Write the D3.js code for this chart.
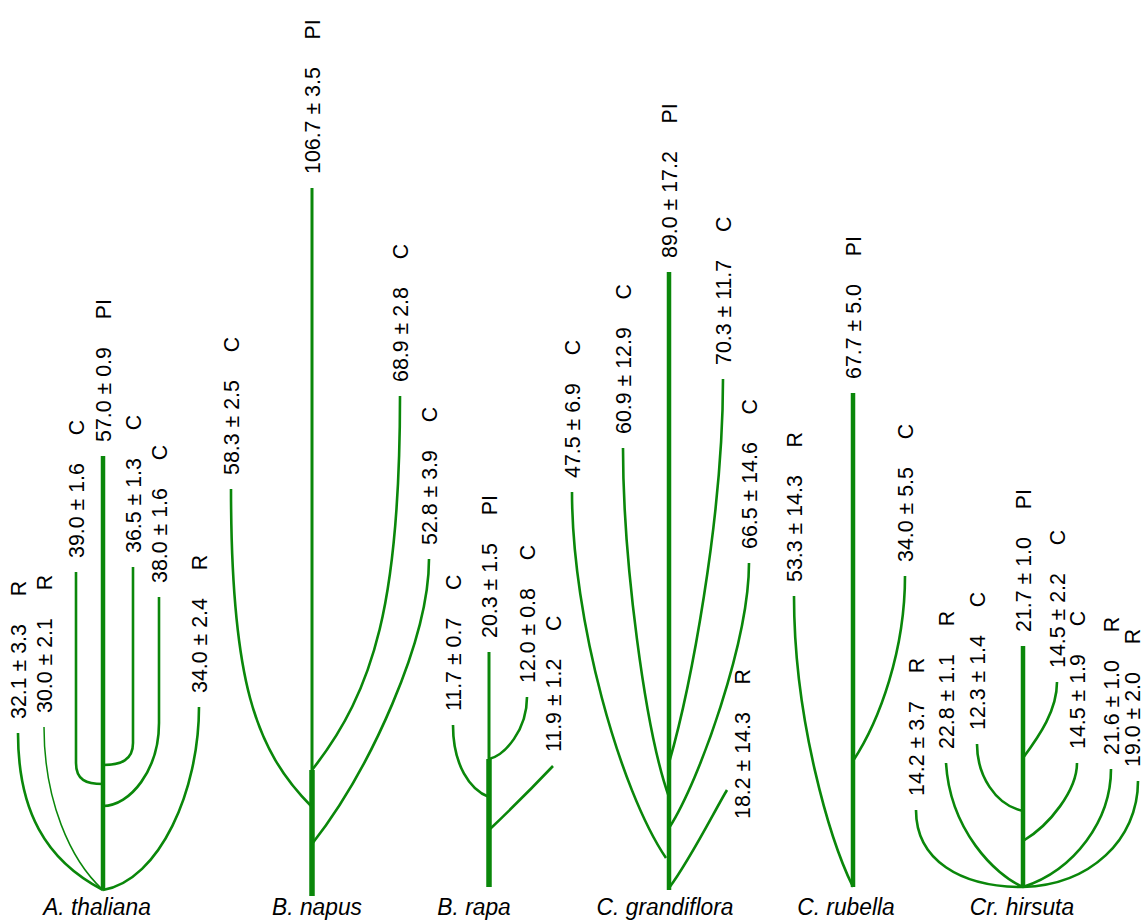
<!DOCTYPE html>
<html>
<head>
<meta charset="utf-8">
<script src="https://cdn.jsdelivr.net/npm/d3@7"></script>
<style>
    body { margin: 0; background: #fff; }
    svg { display: block; }
    .value_label, .species_label { font-family: "Liberation Sans", Arial, sans-serif; fill: #000; }
    .species_label { font-style: italic; }
</style>
</head>
<body>
<div class="plants"></div>
<script>
// species, primary inflorescence (PI) length, mean ± sd
const species = ['A. thaliana', 'B. napus', 'B. rapa', 'C. grandiflora', 'C. rubella', 'Cr. hirsuta']
const piMean = [57.0, 106.7, 20.3, 89.0, 67.7, 21.7]
const piSd = [0.9, 3.5, 1.5, 17.2, 5.0, 1.0]

// branches: owning species, type (C cauline, R rosette), length mean ± sd
const branchSpecies = [0, 0, 0, 0, 0, 0, 1, 1, 1, 2, 2, 2, 3, 3, 3, 3, 3, 4, 4, 5, 5, 5, 5, 5, 5, 5]
const branchType = ['R', 'R', 'C', 'C', 'C', 'R', 'C', 'C', 'C', 'C', 'C', 'C', 'C', 'C', 'C', 'C', 'R', 'R', 'C', 'R', 'R', 'C', 'C', 'C', 'R', 'R']
const branchMean = [32.1, 30.0, 39.0, 36.5, 38.0, 34.0, 58.3, 68.9, 52.8, 11.7, 12.0, 11.9, 47.5, 60.9, 70.3, 66.5, 18.2, 53.3, 34.0, 14.2, 22.8, 12.3, 14.5, 14.5, 21.6, 19.0]
const branchSd = [3.3, 2.1, 1.6, 1.3, 1.6, 2.4, 2.5, 2.8, 3.9, 0.7, 0.8, 1.2, 6.9, 12.9, 11.7, 14.6, 14.3, 14.3, 5.5, 3.7, 1.1, 1.4, 2.2, 1.9, 1.0, 2.0]

// schematic layout (drawing units): stem place along the row, stem top / base heights
const stemPos = [10.3, 31.2, 48.9, 66.9, 85.3, 102.3]
const stemTop = [43.4, 70.2, 23.8, 61.8, 49.7, 24.4]
const stemBase = [0, -0.6, 0.3, 0, 0.3, 0.3]
const stemThickBelow = [null, 12.0, 13.1, null, null, null]
const speciesLabelShift = [-0.6, 0.5, -1.5, -0.4, -0.7, -0.1]

// branch outline: tip, optional knee height, two bezier handles, attachment [dx, height]
const branchTip = [[-8.5, 15.7], [-5.9, 16.3], [-2.7, 31.8], [3.0, 32.3], [5.6, 29.3], [9.6, 18.3],
    [-8.1, 40.1], [8.8, 49.4], [11.7, 33.1],
    [-3.6, 16.5], [3.8, 19.3], [6.4, 12.4],
    [-9.7, 39.8], [-4.6, 44.2], [5.4, 51.1], [8.0, 32.7], [5.8, 10.0],
    [-5.9, 29.4], [5.2, 31.4],
    [-10.7, 8.0], [-7.7, 12.7], [-4.6, 14.6], [3.4, 20.8], [5.4, 12.7], [8.8, 12.1], [11.5, 10.9]]
const branchKnee = [null, null, 12.7, 14.7, 16.7, null, null, null, null, null, null, null, null,
    null, null, null, null, null, null, null, null, null, null, null, null, null]
const branchHandle1 = [[-8.5, 8.0], [-5.9, 9.0], [-2.7, 11.0], [3.0, 13.0], [5.6, 12.0], [9.6, 10.0],
    [-8.1, 21.0], [8.8, 29.0], [11.7, 25.0],
    [-3.6, 12.5], [3.8, 16.0], [4.6, 10.5],
    [-9.7, 27.0], [-4.6, 33.0], [5.4, 37.0], [8.0, 25.0], [4.6, 8.0],
    [-5.9, 17.0], [5.2, 24.0],
    [-10.7, 3.0], [-7.3, 6.0], [-4.6, 11.5], [3.4, 18.0], [5.4, 10.0], [8.8, 7.0], [11.5, 5.0]]
const branchHandle2 = [[-5.8, 3.0], [-3.3, 3.0], [-1.7, 10.6], [1.8, 12.5], [2.7, 8.4], [5.7, 1.0],
    [-5.7, 14.0], [6.3, 20.0], [5.8, 12.0],
    [-1.9, 10.0], [1.6, 13.5], [2.1, 8.0],
    [-4.9, 10.0], [-2.4, 16.0], [2.1, 20.0], [3.1, 11.0], [2.1, 3.0],
    [-2.3, 5.0], [2.7, 17.0],
    [-6.3, 0.3], [-2.8, 1.5], [-2.8, 8.5], [1.7, 15.5], [2.7, 6.5], [5.2, 2.0], [6.7, 0.5]]
const branchAttach = [[0, 0], [0, 0], [0, 10.6], [0, 12.5], [0, 8.4], [0, 0],
    [0, 8.3], [0, 12.0], [0, 4.6],
    [0, 9.3], [0, 13.1], [0, 6.0],
    [-0.3, 3.2], [0, 9.3], [0, 12.7], [0, 6.2], [0, 0.2],
    [0, 0.3], [0, 12.9],
    [0, 0.3], [0, 0.3], [0, 7.9], [0, 13.2], [0, 4.9], [0, 0.3], [0, 0.3]]
const thinBranches = [1]
// labels that sit beside their tip instead of above it: branch index -> [dx, dh]
const labelNudge = { 16: [1.5, -4.3], 25: [-0.6, 0] }

const width = 1146
const height = 923
const green = '#0a870a'
const fontSize = 23
const squeeze = 0.93
const tipGap = 14

const x = d3.scaleLinear().domain([0, 114.6]).range([0, width])
const y = d3.scaleLinear().domain([0, 89]).range([890, 0])

const svg = d3.select('.plants').append('svg')
    .attr('xmlns', 'http://www.w3.org/2000/svg')
    .attr('width', width)
    .attr('height', height)

const branchLayer = svg.append('g').attr('class', 'branches')
const stemLayer = svg.append('g').attr('class', 'stems')
const labelLayer = svg.append('g').attr('class', 'labels')

function point(s, p) {
    return [x(stemPos[s] + p[0]), y(p[1])]
}

function branchPath(i) {
    const s = branchSpecies[i]
    const tip = point(s, branchTip[i])
    const h1 = point(s, branchHandle1[i])
    const h2 = point(s, branchHandle2[i])
    const at = point(s, branchAttach[i])
    const p = d3.path()
    p.moveTo(tip[0], tip[1])
    if (branchKnee[i] !== null) p.lineTo(tip[0], y(branchKnee[i]))
    p.bezierCurveTo(h1[0], h1[1], h2[0], h2[1], at[0], at[1])
    return p.toString()
}

branchLayer.selectAll('path').data(d3.range(branchTip.length)).enter().append('path')
    .attr('d', d => branchPath(d))
    .attr('fill', 'none')
    .attr('stroke', green)
    .attr('stroke-width', d => thinBranches.includes(d) ? 1.5 : 2.6)

// stems, thicker at the base where the species has it
species.forEach((name, s) => {
    const sx = x(stemPos[s])
    const split = stemThickBelow[s]
    const segments = split === null
        ? [[stemBase[s], stemTop[s], 4.5]]
        : [[stemBase[s], split, 5.5], [split, stemTop[s], 3]]
    stemLayer.selectAll(`line.stem_${s}`).data(segments).enter().append('line')
        .attr('class', `stem_${s}`)
        .attr('x1', sx).attr('x2', sx)
        .attr('y1', d => y(d[0])).attr('y2', d => y(d[1]))
        .attr('stroke', green)
        .attr('stroke-width', d => d[2])
})

function addLabel(px, py, mean, sd, type) {
    const g = labelLayer.append('g')
        .attr('transform', `translate(${px},${py - tipGap}) rotate(-90) scale(${squeeze},1)`)
    const t = g.append('text')
        .attr('class', 'value_label')
        .attr('font-size', fontSize)
        .attr('dy', '0.36em')
    t.append('tspan').text(`${mean.toFixed(1)} ± ${sd.toFixed(1)}`)
    t.append('tspan').attr('dx', '1.3em').text(type)
}

species.forEach((name, s) => {
    addLabel(x(stemPos[s]), y(stemTop[s]), piMean[s], piSd[s], 'PI')
})
branchTip.forEach((tip, i) => {
    const nudge = labelNudge[i] || [0, 0]
    const p = point(branchSpecies[i], [tip[0] + nudge[0], tip[1] + nudge[1]])
    addLabel(p[0], p[1], branchMean[i], branchSd[i], branchType[i])
})

labelLayer.selectAll('g.species').data(species).enter().append('g')
    .attr('class', 'species')
    .attr('transform', (d, s) => `translate(${x(stemPos[s] + speciesLabelShift[s])},915) scale(0.95,1)`)
    .append('text')
    .attr('class', 'species_label')
    .attr('font-size', 24)
    .attr('text-anchor', 'middle')
    .text(d => d)
</script>
</body>
</html>
